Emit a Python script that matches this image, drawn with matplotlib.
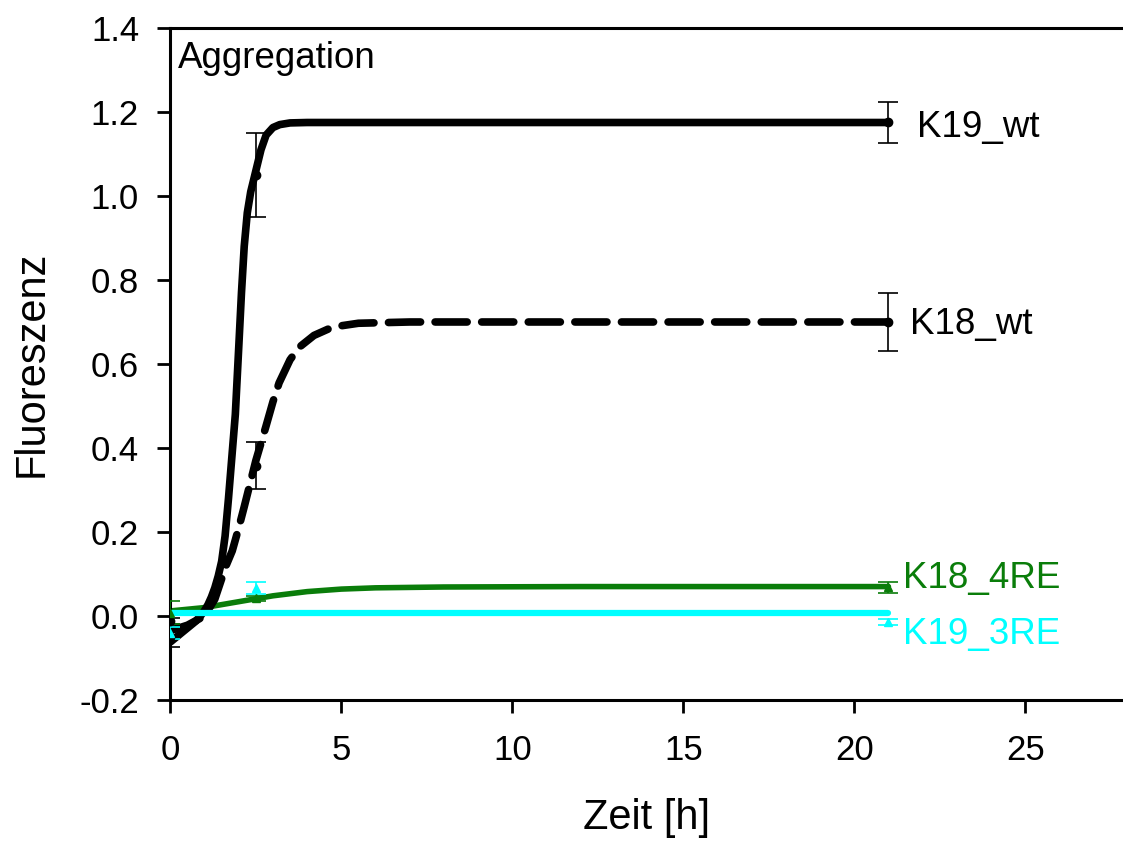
import matplotlib
matplotlib.use("Agg")
import matplotlib.pyplot as plt

plt.rcParams["font.family"] = ["Liberation Sans", "DejaVu Sans"]
plt.rcParams["axes.unicode_minus"] = False

# Messpunkte (Zeit in h)
t_meas = [0, 2.5, 21]
k19_wt = [-0.05, 1.05, 1.175]
k19_wt_err = [0.025, 0.10, 0.048]
k18_wt = [-0.012, 0.358, 0.70]
k18_wt_err = [0.008, 0.056, 0.07]
k18_4re = [0.008, 0.042, 0.068]
k18_4re_err = [0.028, 0.006, 0.014]
k19_3re = [-0.04, 0.067, -0.014]
k19_3re_err = [0.014, 0.014, 0.007]

# Fitkurven
fit_t_k19wt = [0, 0.15, 0.3, 0.45, 0.6, 0.75, 0.9, 1.0, 1.1, 1.2, 1.3, 1.4,
               1.5, 1.6, 1.7, 1.8, 1.9, 2.0, 2.08, 2.16, 2.25, 2.35, 2.5, 2.65,
               2.8, 3.0, 3.2, 3.5, 4.0, 6, 10, 15, 21]
fit_y_k19wt = [-0.062, -0.052, -0.042, -0.032, -0.022, -0.012, 0.002, 0.013,
               0.027, 0.045, 0.067, 0.095, 0.13, 0.19, 0.28, 0.38, 0.48, 0.64,
               0.77, 0.88, 0.96, 1.01, 1.06, 1.11, 1.145, 1.163, 1.17, 1.174,
               1.175, 1.175, 1.175, 1.175, 1.175]

fit_t_k18wt = [0, 0.5, 1.0, 1.3, 1.63, 1.81, 2.0, 2.16, 2.5, 2.79, 3.0, 3.18,
               3.5, 3.77, 4.2, 4.64, 5.0, 5.5, 7, 10, 15, 21]
fit_y_k18wt = [-0.035, -0.022, 0.0, 0.04, 0.12, 0.155, 0.21, 0.26, 0.37, 0.45,
               0.51, 0.555, 0.61, 0.64, 0.668, 0.684, 0.691, 0.697, 0.70, 0.70,
               0.70, 0.70]

fit_t_k184re = [0, 1, 2, 2.5, 3, 4, 5, 6, 8, 12, 21]
fit_y_k184re = [0.012, 0.02, 0.034, 0.041, 0.048, 0.058, 0.064, 0.067, 0.069,
                0.07, 0.07]

fit_t_k193re = [0, 21]
fit_y_k193re = [0.007, 0.007]

GREEN = "#0a7d0a"
CYAN = "#00ffff"

fig = plt.figure(figsize=(11.23, 8.41), dpi=100)
ax = fig.add_axes([0.1517, 0.1677, 0.8483, 0.799])

# Kurven
ax.plot(fit_t_k184re, fit_y_k184re, color=GREEN, lw=4, solid_capstyle="round",
        solid_joinstyle="round", zorder=2)
ax.plot(fit_t_k19wt, fit_y_k19wt, color="black", lw=5.5, solid_capstyle="round",
        solid_joinstyle="round", zorder=3)
ax.plot(fit_t_k18wt, fit_y_k18wt, color="black", lw=5.5, dashes=(4.2, 1.9),
        dash_capstyle="round", dash_joinstyle="round", zorder=3)
ax.plot(fit_t_k193re, fit_y_k193re, color=CYAN, lw=4.5, solid_capstyle="round", zorder=4)

# Fehlerbalken
eb = dict(ls="none", elinewidth=1.2, capsize=7.5, capthick=1.2, zorder=5)
ax.errorbar(t_meas, k19_wt, yerr=k19_wt_err, color="black", marker="o", ms=6, **eb)
ax.errorbar(t_meas, k18_wt, yerr=k18_wt_err, color="black", marker="o", ms=6, **eb)
ax.errorbar(t_meas, k18_4re, yerr=k18_4re_err, color=GREEN, marker="^", ms=6, **eb)
ax.errorbar(t_meas, k19_3re, yerr=k19_3re_err, color=CYAN, marker="^", ms=6, **eb)

# Beschriftungen
ax.text(21.85, 1.164, "K19_wt", fontsize=26.5, va="center", ha="left")
ax.text(21.62, 0.693, "K18_wt", fontsize=26.5, va="center", ha="left")
ax.text(21.42, 0.09, "K18_4RE", fontsize=26.5, va="center", ha="left", color=GREEN)
ax.text(21.42, -0.045, "K19_3RE", fontsize=26.5, va="center", ha="left", color=CYAN)
ax.text(0.008, 0.955, "Aggregation", fontsize=26.5, transform=ax.transAxes,
        va="center", ha="left")

ax.set_xlim(0, 27.86)
ax.set_ylim(-0.2, 1.4)
ax.set_xticks([0, 5, 10, 15, 20, 25])
ax.set_yticks([-0.2, 0.0, 0.2, 0.4, 0.6, 0.8, 1.0, 1.2, 1.4])
ax.set_yticklabels([f"{v:.1f}" for v in ax.get_yticks()])
ax.tick_params(axis="both", labelsize=25, width=2, length=9.5, direction="out")
ax.tick_params(axis="x", pad=15)
ax.tick_params(axis="y", pad=13)

ax.spines["right"].set_visible(False)
for s in ["left", "top", "bottom"]:
    ax.spines[s].set_linewidth(2.2)

ax.set_xlabel("Zeit [h]", fontsize=30, labelpad=22)
ax.set_ylabel("Fluoreszenz", fontsize=30, labelpad=20)

fig.savefig("out.png", dpi=100)
